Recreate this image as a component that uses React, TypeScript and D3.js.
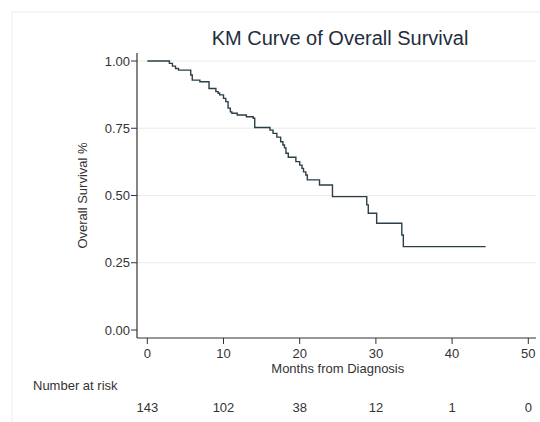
import React from "react";
import * as d3 from "d3";

// KM step points: time (months) at which survival drops, and new survival value
const stepTimes = [0, 2.9, 3.3, 3.7, 4.1, 5.7, 5.9, 6.9, 8.1, 9.0, 9.3, 9.5, 10.0, 10.3, 10.6, 10.9, 11.1, 11.8, 13.0, 13.9, 14.1, 16.1, 16.5, 17.0, 17.5, 17.8, 18.0, 18.2, 18.5, 19.5, 20.0, 20.3, 20.5, 20.8, 21.0, 22.6, 24.3, 28.8, 29.0, 30.1, 33.4, 33.6];
const survival = [1.0, 0.991, 0.981, 0.972, 0.966, 0.948, 0.929, 0.923, 0.898, 0.886, 0.88, 0.874, 0.861, 0.849, 0.825, 0.811, 0.806, 0.799, 0.793, 0.787, 0.753, 0.743, 0.731, 0.717, 0.7, 0.688, 0.677, 0.657, 0.642, 0.626, 0.613, 0.601, 0.588, 0.576, 0.558, 0.539, 0.496, 0.465, 0.434, 0.397, 0.353, 0.31];
const lastTime = 44.4;

const xTicks = [0, 10, 20, 30, 40, 50];
const yTicks = [0, 0.25, 0.5, 0.75, 1.0];
const atRisk = [143, 102, 38, 12, 1, 0];

const title = "KM Curve of Overall Survival";
const xLabel = "Months from Diagnosis";
const yLabel = "Overall Survival %";

export default function App() {
  const W = 540, H = 422;
  const x = d3.scaleLinear().domain([0, 50]).range([147.3, 528.3]);
  const y = d3.scaleLinear().domain([0, 1]).range([330, 61]);
  const axisX = 137, axisY = 338;
  const pts: [number, number][] = stepTimes.map((t, i) => [t, survival[i]]);
  pts.push([lastTime, survival[survival.length - 1]]);
  const line = d3.line<[number, number]>().x(d => x(d[0])).y(d => y(d[1])).curve(d3.curveStepAfter);
  const font = "Liberation Sans, Arial, sans-serif";
  const tc = "#333";
  return (
    <svg width={W} height={H} style={{ position: "absolute", left: 0, top: 0, background: "#fff" }} fontFamily={font}>
      <rect x={0} y={0} width={W} height={H} fill="#fff" />
      <rect x={12} y={12} width={W} height={H} fill="none" stroke="#ececec" />
      <text x={340} y={45} textAnchor="middle" fontSize={20} fill="#1f2d3d">{title}</text>
      {yTicks.filter(v => v > 0).map(v => (
        <line key={"g" + v} x1={axisX} x2={W - 4} y1={y(v)} y2={y(v)} stroke="#ebebeb" strokeWidth={1.2} />
      ))}
      <line x1={axisX} x2={axisX} y1={53} y2={axisY} stroke={tc} strokeWidth={1.2} />
      <line x1={axisX} x2={W - 4} y1={axisY} y2={axisY} stroke={tc} strokeWidth={1.2} />
      {yTicks.map(v => (
        <g key={"y" + v}>
          <line x1={axisX - 6} x2={axisX} y1={y(v)} y2={y(v)} stroke={tc} />
          <text x={130} y={y(v)} dy="0.36em" textAnchor="end" fontSize={13} fill={tc}>{v.toFixed(2)}</text>
        </g>
      ))}
      {xTicks.map(v => (
        <g key={"x" + v}>
          <line x1={x(v)} x2={x(v)} y1={axisY} y2={axisY + 6} stroke={tc} />
          <text x={x(v)} y={358} textAnchor="middle" fontSize={13} fill={tc}>{v}</text>
        </g>
      ))}
      <text x={x(25)} y={373} textAnchor="middle" fontSize={13} fill={tc}>{xLabel}</text>
      <text transform={`translate(87,${(y(0) + y(1)) / 2}) rotate(-90)`} textAnchor="middle" fontSize={13} fill={tc}>{yLabel}</text>
      <text x={33} y={390} fontSize={13} fill={tc}>Number at risk</text>
      {atRisk.map((n, i) => (
        <text key={"r" + i} x={x(xTicks[i])} y={412} textAnchor="middle" fontSize={13} fill={tc}>{n}</text>
      ))}
      <path d={line(pts) || ""} fill="none" stroke="#2c3f47" strokeWidth={1.4} />
    </svg>
  );
}
